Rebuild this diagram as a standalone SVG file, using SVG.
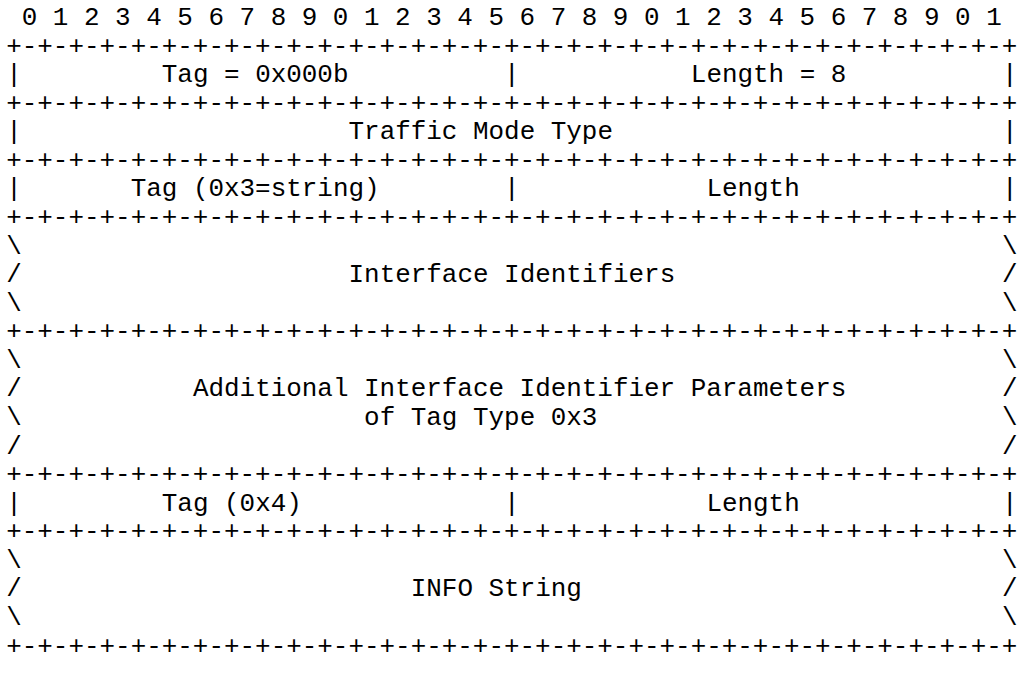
<svg xmlns="http://www.w3.org/2000/svg" xmlns:xlink="http://www.w3.org/1999/xlink" width="1018" height="673" viewBox="0 0 1018 673">
<style>
text{font-family:"Liberation Mono","DejaVu Sans Mono",monospace;font-size:25.93px;fill:#000}
</style>
<defs>
<text id="border" x="6.2" y="0">+-+-+-+-+-+-+-+-+-+-+-+-+-+-+-+-+-+-+-+-+-+-+-+-+-+-+-+-+-+-+-+-+</text>
<text id="bar" x="0" y="0">|</text>
<text id="bs" x="0" y="0">\</text>
<text id="fs" x="0" y="0">/</text>
</defs>
<rect width="1018" height="673" fill="#fff"/>
<g id="bit-ruler">
<text x="21.76" y="25">0 1 2 3 4 5 6 7 8 9 0 1 2 3 4 5 6 7 8 9 0 1 2 3 4 5 6 7 8 9 0 1</text>
</g>
<g id="connectors">
<use xlink:href="#border" href="#border" y="53.57"/>
<use xlink:href="#border" href="#border" y="110.71"/>
<use xlink:href="#border" href="#border" y="167.85"/>
<use xlink:href="#border" href="#border" y="224.99"/>
<use xlink:href="#border" href="#border" y="339.27"/>
<use xlink:href="#border" href="#border" y="482.12"/>
<use xlink:href="#border" href="#border" y="539.26"/>
<use xlink:href="#border" href="#border" y="653.54"/>
</g>
<g id="tag-000b">
<use href="#bar" x="6.2" y="82.14"/>
<text x="161.8" y="82.14">Tag = 0x000b</text>
<use href="#bar" x="504.12" y="82.14"/>
</g>
<g id="length-8">
<text x="690.84" y="82.14">Length = 8</text>
<use href="#bar" x="1002.04" y="82.14"/>
</g>
<g id="traffic-mode-type">
<use href="#bar" x="6.2" y="139.28"/>
<text x="348.52" y="139.28">Traffic Mode Type</text>
<use href="#bar" x="1002.04" y="139.28"/>
</g>
<g id="tag-0x3">
<use href="#bar" x="6.2" y="196.42"/>
<text x="130.68" y="196.42">Tag (0x3=string)</text>
<use href="#bar" x="504.12" y="196.42"/>
</g>
<g id="length-1">
<text x="706.4" y="196.42">Length</text>
<use href="#bar" x="1002.04" y="196.42"/>
</g>
<g id="interface-identifiers">
<use href="#bs" x="6.2" y="253.56"/>
<use href="#bs" x="1002.04" y="253.56"/>
<use href="#fs" x="6.2" y="282.13"/>
<text x="348.52" y="282.13">Interface Identifiers</text>
<use href="#fs" x="1002.04" y="282.13"/>
<use href="#bs" x="6.2" y="310.7"/>
<use href="#bs" x="1002.04" y="310.7"/>
</g>
<g id="additional-parameters">
<use href="#bs" x="6.2" y="367.84"/>
<use href="#bs" x="1002.04" y="367.84"/>
<use href="#fs" x="6.2" y="396.41"/>
<text x="192.92" y="396.41">Additional Interface Identifier Parameters</text>
<use href="#fs" x="1002.04" y="396.41"/>
<use href="#bs" x="6.2" y="424.98"/>
<text x="364.08" y="424.98">of Tag Type 0x3</text>
<use href="#bs" x="1002.04" y="424.98"/>
<use href="#fs" x="6.2" y="453.55"/>
<use href="#fs" x="1002.04" y="453.55"/>
</g>
<g id="tag-0x4">
<use href="#bar" x="6.2" y="510.69"/>
<text x="161.8" y="510.69">Tag (0x4)</text>
<use href="#bar" x="504.12" y="510.69"/>
</g>
<g id="length-2">
<text x="706.4" y="510.69">Length</text>
<use href="#bar" x="1002.04" y="510.69"/>
</g>
<g id="info-string">
<use href="#bs" x="6.2" y="567.83"/>
<use href="#bs" x="1002.04" y="567.83"/>
<use href="#fs" x="6.2" y="596.4"/>
<text x="410.76" y="596.4">INFO String</text>
<use href="#fs" x="1002.04" y="596.4"/>
<use href="#bs" x="6.2" y="624.97"/>
<use href="#bs" x="1002.04" y="624.97"/>
</g>
</svg>
